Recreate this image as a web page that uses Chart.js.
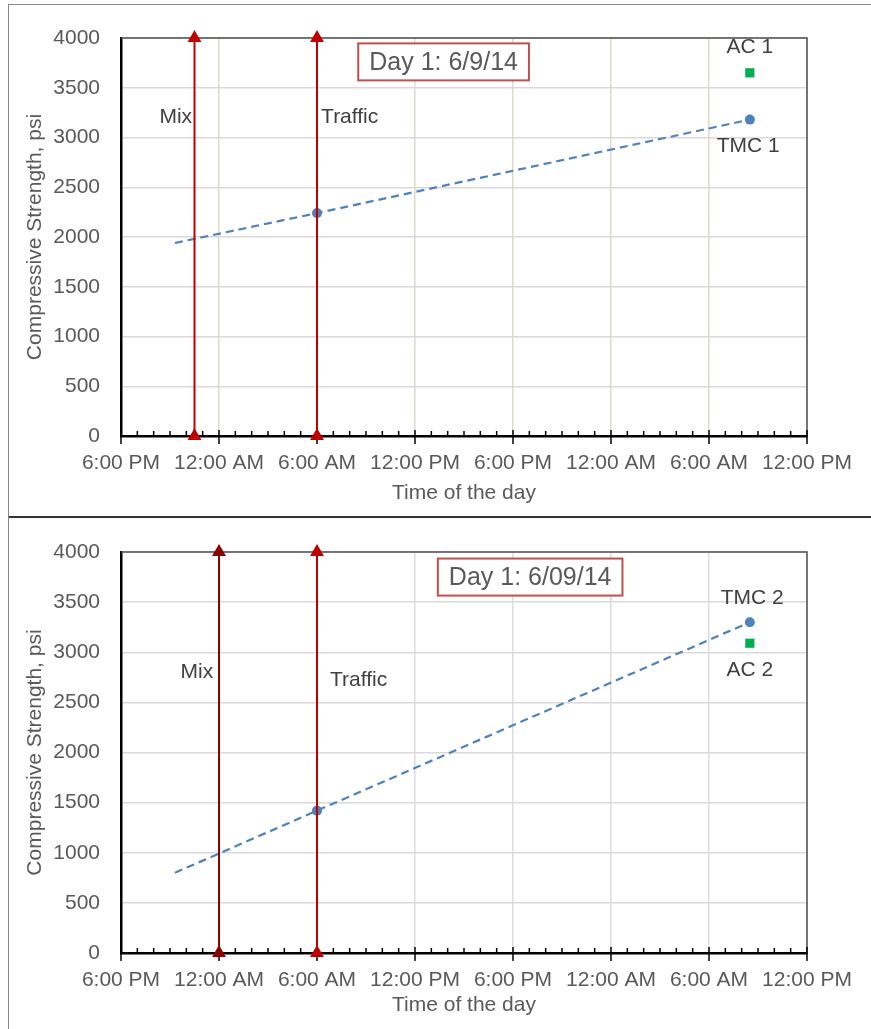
<!DOCTYPE html>
<html>
<head>
<meta charset="utf-8">
<script src="https://cdn.jsdelivr.net/npm/chart.js@4.4.1/dist/chart.umd.min.js"></script>
<style>
  body { margin: 0; background: #fff; width: 871px; height: 1029px; position: relative; overflow: hidden; }
  .panel { position: absolute; left: 8px; width: 900px; box-sizing: border-box; }
  #p1 { top: 4px; height: 514px; border: 1px solid #8a8a8a; border-bottom: 2px solid #333; }
  #p2 { top: 517px; height: 520px; border-left: 1px solid #8a8a8a; }
  canvas { position: absolute; left: 0; }
  #c1 { top: 0; }
  #c2 { top: 517px; }
</style>
</head>
<body>
<div class="panel" id="p1"></div>
<div class="panel" id="p2"></div>
<canvas id="c1" width="871" height="517"></canvas>
<canvas id="c2" width="871" height="512"></canvas>
<script>
// hours after 6:00 PM of the casting day
const xTickLabels = ['6:00 PM', '12:00 AM', '6:00 AM', '12:00 PM', '6:00 PM', '12:00 AM', '6:00 AM', '12:00 PM'];
const yTicks = [0, 500, 1000, 1500, 2000, 2500, 3000, 3500, 4000];

// chart 1
const trendTimes1 = [3.3, 12, 38.5];
const tmc1 = [1940, 2240, 3180];
const acTime1 = [38.5];
const ac1 = [3650];
const mixTime1 = 4.5;
const trafficTime1 = 12;
const notes1Text = ['Mix', 'Traffic', 'AC 1', 'TMC 1'];
const notes1X = [4.35, 12.25, 38.5, 38.4];
const notes1Y = [3200, 3200, 3910, 2915];
const notes1Align = ['right', 'left', 'center', 'center'];
const box1 = { text: 'Day 1: 6/9/14', x: 19.75, y: 3760 };

// chart 2
const trendTimes2 = [3.3, 12, 38.5];
const tmc2 = [800, 1420, 3300];
const acTime2 = [38.5];
const ac2 = [3090];
const mixTime2 = 6;
const trafficTime2 = 12;
const notes2Text = ['Mix', 'Traffic', 'TMC 2', 'AC 2'];
const notes2X = [5.65, 12.8, 38.65, 38.5];
const notes2Y = [2800, 2720, 3540, 2820];
const notes2Align = ['right', 'left', 'center', 'center'];
const box2 = { text: 'Day 1: 6/09/14', x: 25.05, y: 3750 };

const FONT = "'Liberation Sans', Arial, sans-serif";

function vline(t, color) {
  return {
    data: [{ x: t, y: yTicks[0] }, { x: t, y: yTicks[yTicks.length - 1] }],
    showLine: true,
    borderColor: color,
    backgroundColor: color,
    borderWidth: 2,
    pointStyle: 'triangle',
    pointRadius: 6,
    clip: false
  };
}

const framePlugin = {
  id: 'frame',
  beforeDatasetsDraw(chart) {
    const { ctx, chartArea: a, scales: { x } } = chart;
    ctx.save();
    ctx.strokeStyle = '#505050';
    ctx.lineWidth = 1.5;
    ctx.beginPath();
    ctx.moveTo(a.left, a.top);
    ctx.lineTo(a.right, a.top);
    ctx.lineTo(a.right, a.bottom);
    ctx.stroke();
    // hourly minor ticks, crossing major ticks
    ctx.strokeStyle = '#000';
    ctx.lineWidth = 1.5;
    for (let h = x.min; h <= x.max; h++) {
      const px = x.getPixelForValue(h);
      ctx.beginPath();
      if (h % 6 === 0) {
        ctx.moveTo(px, a.bottom - 6);
        ctx.lineTo(px, a.bottom + 8);
      } else {
        ctx.moveTo(px, a.bottom - 5);
        ctx.lineTo(px, a.bottom);
      }
      ctx.stroke();
    }
    ctx.restore();
  }
};

const notesPlugin = {
  id: 'notes',
  afterDatasetsDraw(chart, args, opts) {
    const { ctx, scales: { x, y } } = chart;
    ctx.save();
    ctx.font = '21px ' + FONT;
    ctx.fillStyle = '#404040';
    ctx.textBaseline = 'middle';
    opts.text.forEach((t, i) => {
      ctx.textAlign = opts.align[i];
      ctx.fillText(t, x.getPixelForValue(opts.x[i]), y.getPixelForValue(opts.y[i]));
    });
    const b = opts.box;
    ctx.font = '25px ' + FONT;
    ctx.textAlign = 'center';
    const bx = x.getPixelForValue(b.x);
    const by = y.getPixelForValue(b.y);
    const w = ctx.measureText(b.text).width + 22;
    const hgt = 37;
    ctx.fillStyle = '#fff';
    ctx.fillRect(bx - w / 2, by - hgt / 2, w, hgt);
    ctx.strokeStyle = '#c0504d';
    ctx.lineWidth = 2;
    ctx.strokeRect(bx - w / 2, by - hgt / 2, w, hgt);
    ctx.fillStyle = '#595959';
    ctx.fillText(b.text, bx, by + 1);
    ctx.restore();
  }
};

function makeChart(id, d) {
  new Chart(document.getElementById(id), {
    type: 'scatter',
    data: {
      datasets: [
        vline(d.mix, d.mixColor),
        vline(d.traffic, '#c00000'),
        {
          data: d.trendTimes.map((t, i) => ({ x: t, y: d.tmc[i] })),
          showLine: true,
          borderColor: '#4f81bd',
          backgroundColor: '#4f81bd',
          borderWidth: 2.2,
          borderDash: [8, 5],
          pointRadius: d.trendTimes.map((t, i) => (i === 0 ? 0 : 5)),
          pointBorderWidth: 0
        },
        {
          data: d.acTime.map((t, i) => ({ x: t, y: d.ac[i] })),
          pointStyle: 'rect',
          pointRadius: 6.5,
          backgroundColor: '#00b050',
          borderWidth: 0
        }
      ]
    },
    options: {
      responsive: false,
      animation: false,
      layout: { padding: { left: 0, top: d.top, right: 64, bottom: 0 } },
      plugins: {
        legend: { display: false },
        tooltip: { enabled: false },
        notes: d.notes
      },
      scales: {
        x: {
          type: 'linear',
          min: 0,
          max: 42,
          afterFit: (s) => { s.height = d.xHeight; },
          border: { color: '#000', width: 2.5 },
          grid: { color: d.xGrid, lineWidth: 1.5, drawTicks: false },
          ticks: {
            stepSize: 6,
            autoSkip: false,
            maxRotation: 0,
            padding: 15,
            color: '#595959',
            font: { family: FONT, size: 21 },
            callback: (v) => xTickLabels[v / 6]
          },
          title: {
            display: true,
            text: 'Time of the day',
            color: '#595959',
            font: { family: FONT, size: 21 },
            padding: { top: 0, bottom: 11 }
          }
        },
        y: {
          min: 0,
          max: 4000,
          afterFit: (s) => { s.width = 121; },
          border: { color: '#000', width: 2.5 },
          grid: { color: '#d9d9d9', lineWidth: 1.5, drawTicks: false },
          ticks: {
            stepSize: 500,
            padding: 21,
            color: '#595959',
            font: { family: FONT, size: 21 },
            callback: (v) => String(v)
          },
          title: {
            display: true,
            text: 'Compressive Strength, psi',
            color: '#595959',
            font: { family: FONT, size: 21 },
            padding: { top: 23, bottom: 0 }
          }
        }
      }
    },
    plugins: [framePlugin, notesPlugin]
  });
}

makeChart('c1', {
  top: 38, xHeight: 81, xGrid: '#dedac8',
  mix: mixTime1, mixColor: '#c00000', traffic: trafficTime1,
  trendTimes: trendTimes1, tmc: tmc1, acTime: acTime1, ac: ac1,
  notes: { text: notes1Text, x: notes1X, y: notes1Y, align: notes1Align, box: box1 }
});

makeChart('c2', {
  top: 35, xHeight: 76, xGrid: '#dcdcdc',
  mix: mixTime2, mixColor: '#8b0000', traffic: trafficTime2,
  trendTimes: trendTimes2, tmc: tmc2, acTime: acTime2, ac: ac2,
  notes: { text: notes2Text, x: notes2X, y: notes2Y, align: notes2Align, box: box2 }
});
</script>
</body>
</html>
